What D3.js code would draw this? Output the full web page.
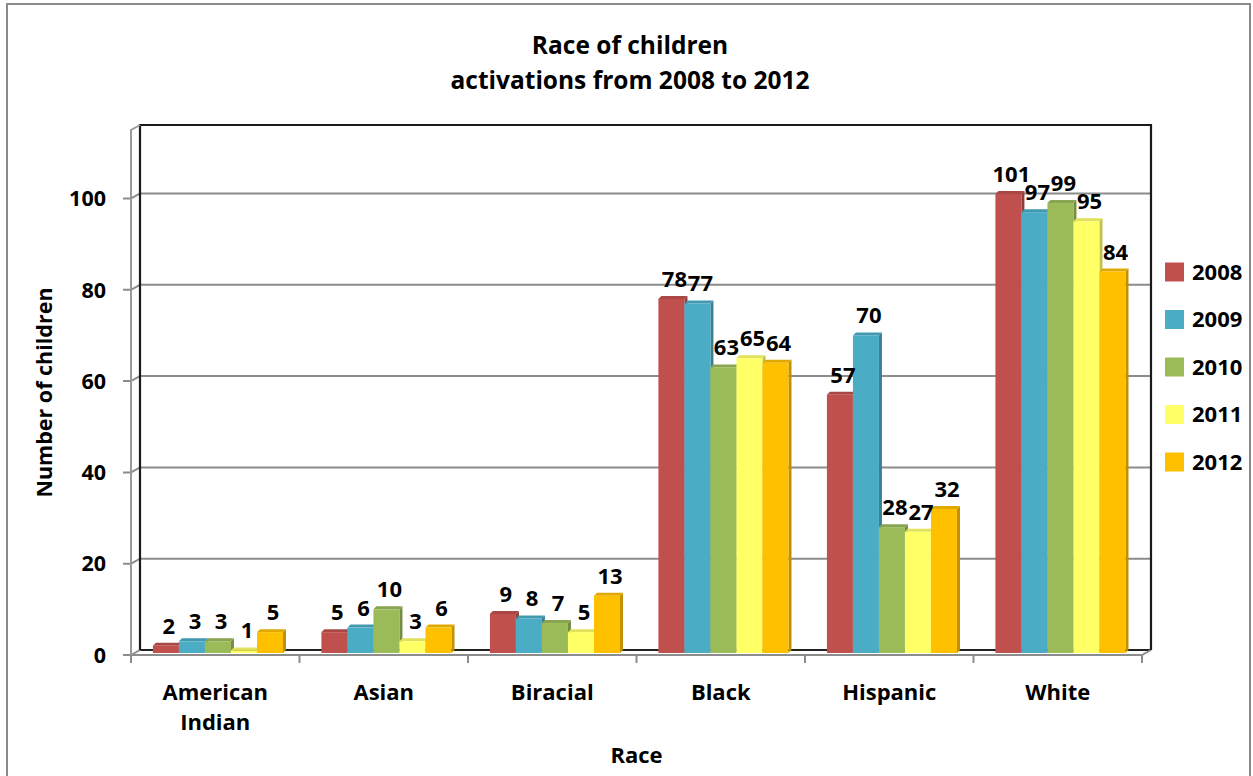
<!DOCTYPE html>
<html><head><meta charset="utf-8">
<script src="https://cdn.jsdelivr.net/npm/d3@7"></script>
<style>
html,body{margin:0;padding:0;background:#fff;}
svg text{font-family:"Open Sans",Lato,sans-serif;font-weight:bold;fill:#000;}
</style></head>
<body><svg id="chart" width="1253" height="776"></svg>
<script>
const categories = ["American Indian","Asian","Biracial","Black","Hispanic","White"];
const years = ["2008","2009","2010","2011","2012"];
const values2008 = [2,5,9,78,57,101];
const values2009 = [3,6,8,77,70,97];
const values2010 = [3,10,7,63,28,99];
const values2011 = [1,3,5,65,27,95];
const values2012 = [5,6,13,64,32,84];
const yTicks = [0,20,40,60,80,100];
const colors = ["#C0504D","#4BACC6","#9BBB59","#FFFF66","#FFC000"];
const seriesValues = [values2008,values2009,values2010,values2011,values2012];

(function(){
const svg = d3.select("#chart");
const pL = 131, pR = 1142, pT = 130, pB = 655;
const dx = 9, dy = -5; // depth of 3D box

svg.append("rect").attr("x",7).attr("y",4).attr("width",1243).attr("height",820)
  .attr("fill","#fff").attr("stroke","#8a8a8a").attr("stroke-width",2);

const x = d3.scaleBand().domain(categories).range([pL,pR]).paddingInner(0).paddingOuter(0);
const bw = x.bandwidth();
const x1 = d3.scaleBand().domain(years).range([bw*0.13, bw*0.902]).padding(0);
const y = d3.scaleLinear().domain([0,115]).range([pB,pT]);

const g = svg.append("g");
yTicks.filter(t=>t>0).forEach(t=>{
  const yy = y(t);
  g.append("path").attr("d",`M${pL-8},${yy}L${pL},${yy}L${pL+dx},${yy+dy}L${pR+dx},${yy+dy}`)
    .attr("fill","none").attr("stroke","#8c8c8c").attr("stroke-width",2);
});
g.append("path").attr("d",`M${pL+dx},${pB+dy}L${pR+dx},${pB+dy}`).attr("stroke","#222").attr("stroke-width",2);
g.append("path").attr("d",`M${pL-8},${pB}L${pR},${pB}L${pR+dx},${pB+dy}`)
  .attr("fill","none").attr("stroke","#8c8c8c").attr("stroke-width",2);
g.append("path").attr("d",`M${pL},${pB}L${pL+dx},${pB+dy}`).attr("stroke","#8c8c8c").attr("stroke-width",2);
g.append("path").attr("d",`M${pL+dx},${pB+dy}L${pL+dx},${pT+dy}L${pR+dx},${pT+dy}L${pR+dx},${pB+dy}`)
  .attr("fill","none").attr("stroke","#1a1a1a").attr("stroke-width",2.2);
g.append("path").attr("d",`M${pL},${pB}L${pL},${pT}L${pL+dx},${pT+dy}`)
  .attr("fill","none").attr("stroke","#9a9a9a").attr("stroke-width",2);
d3.range(categories.length+1).forEach(i=>{
  const xx = pL + i*bw;
  g.append("line").attr("x1",xx).attr("x2",xx).attr("y1",pB).attr("y2",pB+8)
    .attr("stroke","#8c8c8c").attr("stroke-width",2);
});

const bd = 3;
const barBase = pB - 2;
const bars = svg.append("g");
categories.forEach((c,ci)=>{
  years.forEach((yr,si)=>{
    const v = seriesValues[si][ci];
    const x0 = x(c) + x1(yr), w = x1.bandwidth();
    const yt = y(v);
    const col = d3.color(colors[si]);
    bars.append("path")
      .attr("d",`M${x0+w},${yt}L${x0+w+bd},${yt-bd}L${x0+w+bd},${barBase-bd}L${x0+w},${barBase}Z`)
      .attr("fill",col.darker(0.8));
    bars.append("path")
      .attr("d",`M${x0},${yt}L${x0+bd},${yt-bd}L${x0+w+bd},${yt-bd}L${x0+w},${yt}Z`)
      .attr("fill",col.darker(0.35));
    bars.append("rect").attr("x",x0).attr("y",yt).attr("width",w).attr("height",barBase-yt)
      .attr("fill",colors[si]);
  });
});
const labels = svg.append("g");
categories.forEach((c,ci)=>{
  years.forEach((yr,si)=>{
    const v = seriesValues[si][ci];
    labels.append("text")
      .attr("x", x(c) + x1(yr) + x1.bandwidth()/2 + 3)
      .attr("y", y(v) - 12)
      .attr("text-anchor","middle")
      .attr("font-size",22)
      .text(v);
  });
});

yTicks.forEach(t=>{
  svg.append("text").attr("x",106).attr("y",y(t)).attr("dy","0.36em")
    .attr("text-anchor","end").attr("font-size",21.5).text(t);
});
categories.forEach(c=>{
  const words = c.split(" ");
  const t = svg.append("text").attr("x",x(c)+bw/2).attr("y",700).attr("text-anchor","middle").attr("font-size",22);
  words.forEach((wd,i)=>{
    t.append("tspan").attr("x",x(c)+bw/2).attr("dy", i===0?0:30).text(wd);
  });
});
svg.append("text").attr("x",(pL+pR)/2).attr("y",763).attr("text-anchor","middle").attr("font-size",22).text("Race");
svg.append("text").attr("transform",`translate(52,${(pT+pB)/2}) rotate(-90)`)
  .attr("text-anchor","middle").attr("font-size",21.5).text("Number of children");
svg.append("text").attr("x",630).attr("y",54).attr("text-anchor","middle").attr("font-size",24.5).text("Race of children");
svg.append("text").attr("x",630).attr("y",89).attr("text-anchor","middle").attr("font-size",24.5).text("activations from 2008 to 2012");

const lg = svg.append("g");
years.forEach((yr,i)=>{
  const cy = 272 + i*47.5;
  lg.append("rect").attr("x",1165).attr("y",cy-9.5).attr("width",19).attr("height",19).attr("fill",colors[i]);
  lg.append("text").attr("x",1192).attr("y",cy).attr("dy","0.36em").attr("font-size",22).text(yr);
});
})();
</script></body></html>
